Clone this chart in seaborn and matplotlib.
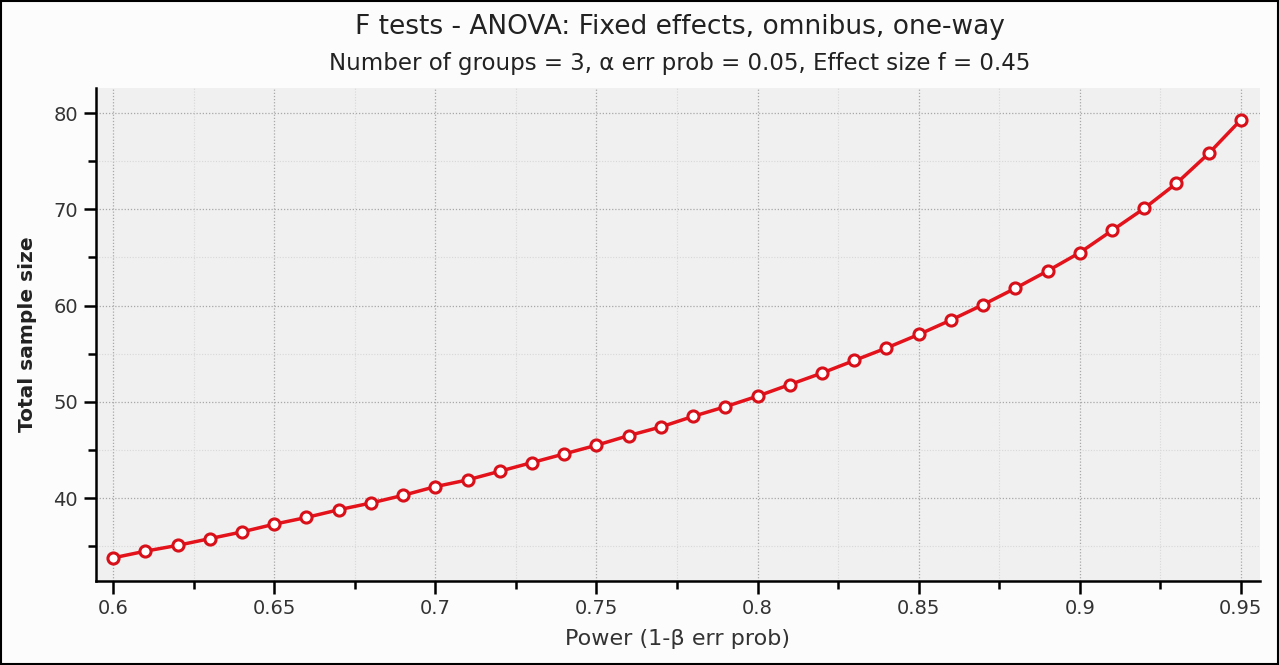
import matplotlib
matplotlib.use("Agg")
import matplotlib.pyplot as plt
import pandas as pd
import seaborn as sns
from matplotlib.patches import Rectangle
from matplotlib.ticker import MultipleLocator, FuncFormatter

power = [0.60, 0.61, 0.62, 0.63, 0.64, 0.65, 0.66, 0.67, 0.68, 0.69,
         0.70, 0.71, 0.72, 0.73, 0.74, 0.75, 0.76, 0.77, 0.78, 0.79,
         0.80, 0.81, 0.82, 0.83, 0.84, 0.85, 0.86, 0.87, 0.88, 0.89,
         0.90, 0.91, 0.92, 0.93, 0.94, 0.95]
sample_size = [33.8, 34.5, 35.1, 35.8, 36.5, 37.3, 38.0, 38.8, 39.5, 40.3,
               41.2, 41.9, 42.8, 43.7, 44.6, 45.5, 46.5, 47.4, 48.5, 49.5,
               50.6, 51.8, 53.0, 54.3, 55.6, 57.0, 58.5, 60.1, 61.8, 63.6,
               65.5, 67.8, 70.1, 72.7, 75.8, 79.3]
x_ticks = [0.6, 0.65, 0.7, 0.75, 0.8, 0.85, 0.9, 0.95]
y_ticks = [40, 50, 60, 70, 80]

title = "F tests - ANOVA: Fixed effects, omnibus, one-way"
subtitle = "Number of groups = 3, α err prob = 0.05, Effect size f = 0.45"

df = pd.DataFrame({"power": power, "n": sample_size})

sns.set_theme(style="ticks")
plt.rcParams["font.family"] = ["DejaVu Sans"]

fig = plt.figure(figsize=(12.79, 6.65), dpi=100, facecolor="#fcfcfc")
ax = fig.add_axes([0.0751, 0.1263, 0.9100, 0.7414])
ax.set_facecolor("#f0f0f0")

sns.lineplot(data=df, x="power", y="n", ax=ax, color="#e3121b", linewidth=2.5,
             marker="o", markersize=8, markerfacecolor="white",
             markeredgecolor="#d8101a", markeredgewidth=2.2, zorder=3)

ax.set_xlim(0.5947, 0.9559)
ax.set_ylim(31.4, 82.6)
ax.set_xticks(x_ticks)
ax.xaxis.set_minor_locator(MultipleLocator(0.025))
ax.set_yticks(y_ticks)
ax.yaxis.set_minor_locator(MultipleLocator(5))
ax.xaxis.set_major_formatter(FuncFormatter(lambda v, p: f"{v:g}"))

# dotted grid, fainter at the minor positions
ax.grid(which="major", color="#a8a8a8", linestyle=(0, (1, 1.5)), linewidth=0.9)
ax.grid(which="minor", color="#d8d8d8", linestyle=(0, (1, 1.5)), linewidth=0.8)
ax.set_axisbelow(True)

for s in ["top", "right"]:
    ax.spines[s].set_visible(False)
for s in ["left", "bottom"]:
    ax.spines[s].set_linewidth(1.8)
    ax.spines[s].set_color("black")

ax.tick_params(which="major", length=9, width=1.8, color="black",
               labelsize=14, labelcolor="#333333", pad=4)
ax.tick_params(which="minor", length=6, width=1.8, color="black")

ax.set_xlabel("Power (1-β err prob)", fontsize=16, color="#333333", labelpad=8)
ax.set_ylabel("Total sample size", fontsize=14.5, color="#222222",
              fontweight="bold", labelpad=12)

fig.text(0.5315, 0.959, title, ha="center", va="center", fontsize=19, color="#222222")
fig.text(0.5315, 0.905, subtitle, ha="center", va="center", fontsize=16.5, color="#222222")

# thin black frame around the whole picture
fig.patches.append(Rectangle((0.0008, 0.0012), 0.9984, 0.9976, transform=fig.transFigure,
                             fill=False, edgecolor="black", linewidth=1.5))

fig.savefig("out.png", dpi=100, facecolor=fig.get_facecolor())
